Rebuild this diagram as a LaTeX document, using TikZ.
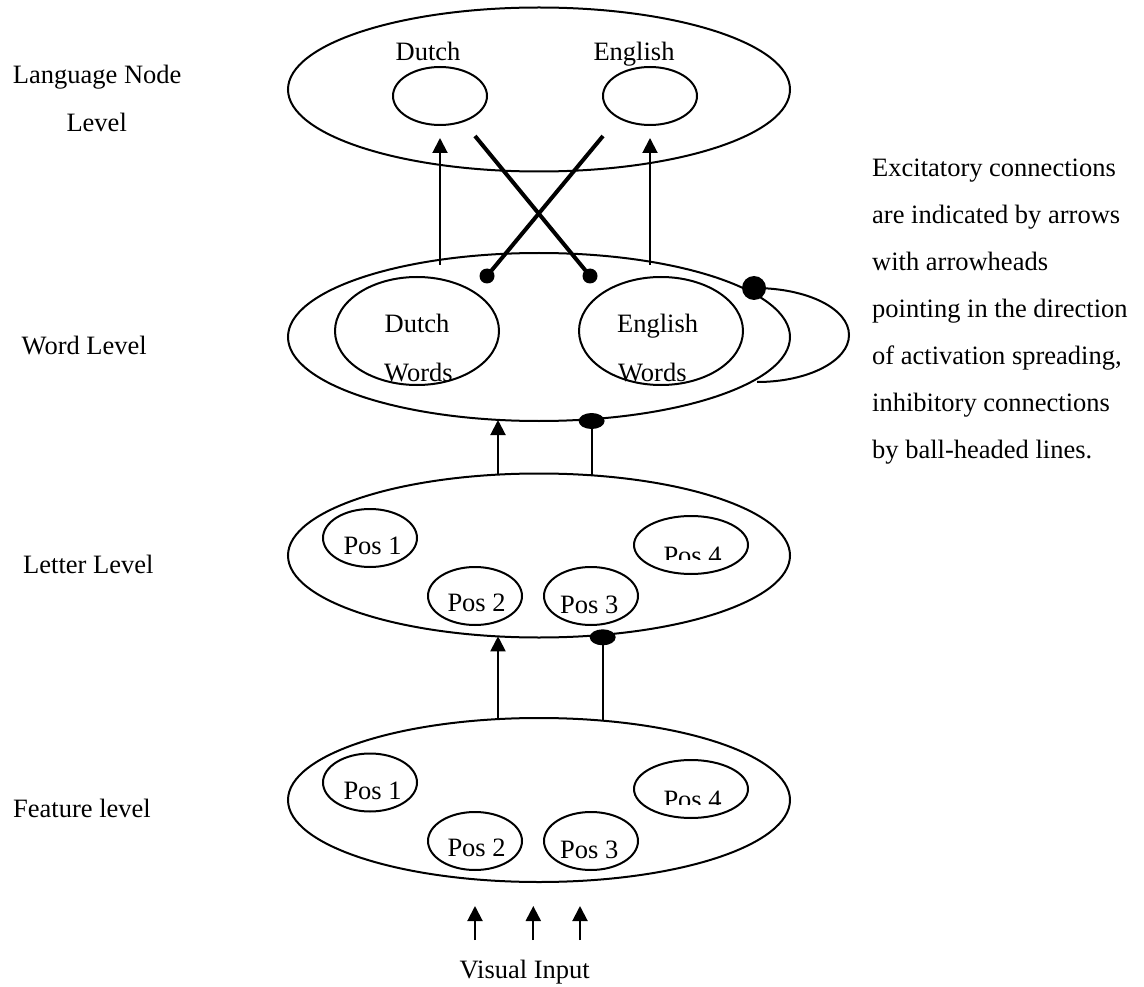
\documentclass[tikz,border=0pt]{standalone}
\usepackage{fontspec}
\setmainfont{Liberation Serif}
\usetikzlibrary{arrows.meta,shapes.geometric}
\begin{document}
\begin{tikzpicture}[x=1pt,y=-1pt,
  every node/.style={font=\fontsize{26.5}{30}\selectfont},
  oval/.style={draw, ellipse, line width=2pt, inner sep=0pt},
  big/.style={oval, minimum width=502pt, minimum height=164pt},
  small/.style={oval, minimum width=94pt, minimum height=58pt},
  lbl/.style={anchor=base, inner sep=0pt},
  lblw/.style={anchor=base west, inner sep=0pt},
  exc/.style={line width=2pt, -{Triangle[length=15pt,width=15pt]}},
  inh/.style={line width=2pt},
  crossline/.style={line width=4pt},
  ball/.style={fill=black, circle, inner sep=0pt, minimum size=15pt},
  flatball/.style={fill=black, ellipse, inner sep=0pt, minimum width=26pt, minimum height=16pt},
]
\useasboundingbox (0,0) rectangle (1144,987);

% ---------- language node level ----------
\node[big] (lang) at (539,89.5) {};
\node[small] (dutchN) at (440,96) {};
\node[small] (englishN) at (650,96) {};
\node[lbl] (dutchT) at (428,61) {Dutch};
\node[lbl] (englishT) at (634,61) {English};

% ---------- word level ----------
\node[big, minimum height=168pt] (word) at (539,337) {};
\node[oval, minimum width=164pt, minimum height=108pt] (dw) at (417,331) {};
\node[oval, minimum width=164pt, minimum height=108pt] (ew) at (661,331) {};
\node[lbl] (dwT1) at (417,332) {Dutch};
\node[lbl] (dwT2) at (418.5,381) {Words};
\node[lbl] (ewT1) at (657.6,332) {English};
\node[lbl] (ewT2) at (652.3,381) {Words};

% ---------- letter level ----------
\node[big] (letter) at (539,555.5) {};
\node[small] (l1) at (370,538) {};
\node[small] (l2) at (475,596) {};
\node[small] (l3) at (591,596) {};
\node[small, minimum width=114pt] (l4) at (691,545) {};
\node[lblw] (l1T) at (343.3,554.3) {Pos 1};
\node[lblw] (l2T) at (447.3,611.7) {Pos 2};
\node[lblw] (l3T) at (560,613.3) {Pos 3};
\begin{scope}
  \clip (640,530) rectangle (760,559.3);
  \node[lblw] (l4T) at (663.3,564) {Pos 4};
\end{scope}

% ---------- feature level ----------
\node[big] (feature) at (539,800) {};
\node[small] (f1) at (370,782.5) {};
\node[small] (f2) at (475,841) {};
\node[small] (f3) at (591,841) {};
\node[small, minimum width=114pt] (f4) at (691,789) {};
\node[lblw] (f1T) at (343.3,799.3) {Pos 1};
\node[lblw] (f2T) at (447.3,856) {Pos 2};
\node[lblw] (f3T) at (560,858.3) {Pos 3};
\begin{scope}
  \clip (640,775) rectangle (760,804);
  \node[lblw] (f4T) at (663.3,808.3) {Pos 4};
\end{scope}

% ---------- left labels ----------
\node[lbl] (langL1) at (97.2,84) {Language Node};
\node[lbl] (langL2) at (96.7,131.7) {Level};
\node[lbl] (wordL) at (84.2,354) {Word Level};
\node[lbl] (letterL) at (88.3,573.3) {Letter Level};
\node[lbl] (featL) at (82,817.3) {Feature level};
\node[lbl] (visual) at (524.7,978.3) {Visual Input};

% ---------- legend ----------
\foreach \t [count=\i] in {Excitatory connections, are indicated by arrows, with arrowheads,
  pointing in the direction, {of activation spreading,}, inhibitory connections, by ball-headed lines.}
  \node[lblw] (note\i) at (872,{176.7+47*(\i-1)}) {\t};

% ---------- connectors: word -> language ----------
\coordinate (wd) at (440,265);
\coordinate (we) at (650,265);
\draw[exc, shorten >=12pt] (wd) -- (wd |- dutchN.south);
\draw[exc, shorten >=12pt] (we) -- (we |- englishN.south);

\node[ball] (b1) at (487,276) {};
\node[ball] (b2) at (590,276) {};
\coordinate (x1) at (475,136);
\coordinate (x2) at (603,136);
\draw[crossline] (x1) -- (b2.center);
\draw[crossline] (x2) -- (b1.center);

% self inhibition loop
\node[ball, minimum size=24pt] (sb) at (754,288) {};
\coordinate (sl) at (757,382);
\draw[inh] (sl) .. controls (808,382) and (849,361) .. (849,335)
  .. controls (849,309) and (808,288) .. (sb.center);

% ---------- letter -> word ----------
\node[flatball] (b3) at (591.6,421) {};
\coordinate (lw1) at (498,474.5);
\coordinate (lw2) at (591.6,475.2);
\draw[exc] (lw1) -- (498,420);
\draw[inh] (lw2) -- (b3.center);

% ---------- feature -> letter ----------
\node[flatball] (b4) at (602.7,637.3) {};
\coordinate (fl1) at (498,719);
\coordinate (fl2) at (602.7,720.5);
\draw[exc] (fl1) -- (498,636.3);
\draw[inh] (fl2) -- (b4.center);

% ---------- visual input ----------
\foreach \x [count=\i] in {475,533.3,580}{
  \coordinate (vin\i) at (\x,940);
  \draw[exc] (vin\i) -- (\x,906);
}
\end{tikzpicture}
\end{document}
